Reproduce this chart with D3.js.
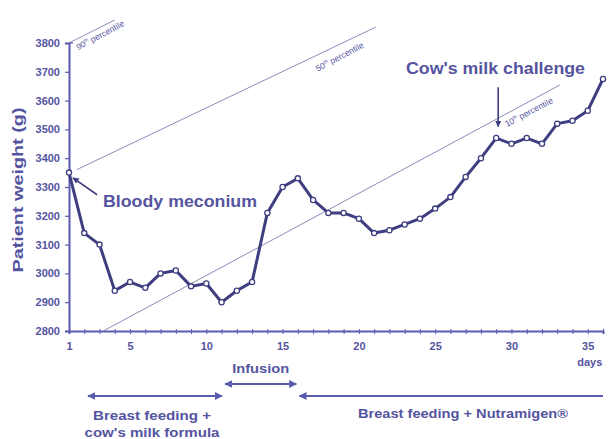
<!DOCTYPE html>
<html><head><meta charset="utf-8">
<script src="https://cdn.jsdelivr.net/npm/d3@7"></script>
<style>html,body{margin:0;padding:0;background:#fff;}svg{display:block;font-family:"Liberation Sans",Arial,sans-serif;}</style>
</head><body>
<svg id="c" width="613" height="439"></svg>
<script>
// ---- data ----
const days = [1,2,3,4,5,6,7,8,9,10,11,12,13,14,15,16,17,18,19,20,21,22,23,24,25,26,27,28,29,30,31,32,33,34,35,36];
const weights = [3350,3140,3100,2940,2970,2950,3000,3010,2955,2965,2900,2940,2970,3210,3300,3330,3255,3210,3210,3190,3140,3150,3170,3190,3225,3265,3335,3400,3470,3450,3470,3450,3520,3530,3565,3675];
const yTicks = [2800,2900,3000,3100,3200,3300,3400,3500,3600,3700,3800];
const xTickLabels = [1,5,10,15,20,25,30,35];
const percentile90 = [[1,3800],[4,3880]];
const percentile50 = [[1.5,3360],[21.1,3855]];
const percentile10 = [[3.25,2800],[33.2,3655]];
const percentileLabels = [
  {num:"90", day:1.6, w:3775},
  {num:"50", day:17.3, w:3700},
  {num:"10", day:29.7, w:3508}
];
const phases = [
  {name:["Breast feeding +","cow's milk formula"], start:2.25, end:11.03, both:true},
  {name:["Infusion"], start:11.23, end:15.9, both:true},
  {name:["Breast feeding + Nutramigen®"], start:16.1, end:36, both:false}
];

// ---- setup ----
const svg = d3.select("#c");
const textCol = "#5454a0", lineCol = "#3e3e80", axisCol = "#5a5aae", pctCol = "#8c8cba";
const x = d3.scaleLinear().domain([1,36]).range([69,603]);
const y = d3.scaleLinear().domain([2800,3800]).range([331,43]);

const defs = svg.append("defs");
function marker(id, col){
  defs.append("marker").attr("id",id).attr("viewBox","0 0 10 10").attr("refX",9).attr("refY",5)
    .attr("markerWidth",4).attr("markerHeight",4).attr("orient","auto-start-reverse")
    .attr("markerUnits","strokeWidth")
    .append("path").attr("d","M0,0 L10,5 L0,10 Z").attr("fill",col);
}
marker("ah", lineCol);
marker("ah2", axisCol);

// percentile lines
[percentile90, percentile50, percentile10].forEach(p=>{
  svg.append("line").attr("x1",x(p[0][0])).attr("y1",y(p[0][1])).attr("x2",x(p[1][0])).attr("y2",y(p[1][1]))
    .attr("stroke",pctCol).attr("stroke-width",1);
});
percentileLabels.forEach(l=>{
  const t = svg.append("text").attr("transform",`translate(${x(l.day)},${y(l.w)}) rotate(-28)`)
    .attr("fill",textCol).attr("font-size",8.5).attr("text-anchor","start");
  t.append("tspan").text(l.num);
  t.append("tspan").attr("font-size",5).attr("dy",-3.5).text("th");
  t.append("tspan").attr("dy",3.5).text(" percentile");
});

// axes
const yAxis = d3.axisLeft(y).tickValues(yTicks).tickSize(4).tickPadding(5).tickFormat(d3.format("d"));
const gy = svg.append("g").attr("transform",`translate(${x(1)},0)`).call(yAxis);
gy.select(".domain").attr("stroke",axisCol).attr("stroke-width",2);
gy.selectAll(".tick line").attr("stroke",axisCol).attr("stroke-width",1.2);
gy.selectAll(".tick text").attr("fill",textCol).attr("font-size",11).attr("font-weight","bold").attr("font-family","Liberation Sans, Arial, sans-serif");
gy.append("line").attr("x1",0).attr("x2",4).attr("y1",y(3800)).attr("y2",y(3800)).attr("stroke",axisCol).attr("stroke-width",1.2);

const xAxis = d3.axisBottom(x).tickValues(days).tickSize(3).tickPadding(8).tickFormat(d=>xTickLabels.includes(d)?d:"");
const gx = svg.append("g").attr("transform",`translate(0,${y(2800)})`).call(xAxis);
gx.select(".domain").attr("stroke",axisCol).attr("stroke-width",2);
gx.selectAll(".tick line").attr("stroke",axisCol).attr("stroke-width",1).attr("y1",-2);
gx.selectAll(".tick text").attr("fill",textCol).attr("font-size",11).attr("font-weight","bold").attr("font-family","Liberation Sans, Arial, sans-serif");
svg.append("text").attr("x",x(35)+2).attr("y",y(2800)+35).attr("text-anchor","middle").attr("fill",textCol)
  .attr("font-size",11).attr("font-weight","bold").text("days");

// y title
svg.append("text").attr("transform",`translate(23,190) rotate(-90)`).attr("text-anchor","middle")
  .attr("fill",textCol).attr("font-size",15).attr("font-weight","bold")
  .attr("textLength",165).attr("lengthAdjust","spacingAndGlyphs").text("Patient weight (g)");

// data line
const pts = days.map((d,i)=>[d,weights[i]]);
svg.append("path").datum(pts).attr("fill","none").attr("stroke",lineCol).attr("stroke-width",3)
  .attr("stroke-linejoin","round").attr("d",d3.line().x(d=>x(d[0])).y(d=>y(d[1])));
svg.selectAll("circle.pt").data(pts).enter().append("circle").attr("class","pt")
  .attr("cx",d=>x(d[0])).attr("cy",d=>y(d[1])).attr("r",2.6).attr("fill","#fff")
  .attr("stroke",lineCol).attr("stroke-width",1.3);

// annotations
svg.append("line").attr("x1",x(2.84)).attr("y1",y(3273)).attr("x2",x(1.26)).attr("y2",y(3332))
  .attr("stroke",lineCol).attr("stroke-width",1.6).attr("marker-end","url(#ah)");
svg.append("text").attr("x",103).attr("y",207).attr("fill",textCol).attr("font-size",16).attr("font-weight","bold")
  .attr("textLength",154).attr("lengthAdjust","spacingAndGlyphs").text("Bloody meconium");
svg.append("line").attr("x1",x(29.13)).attr("y1",y(3646)).attr("x2",x(29.13)).attr("y2",y(3510))
  .attr("stroke",lineCol).attr("stroke-width",1.6).attr("marker-end","url(#ah)");
svg.append("text").attr("x",406).attr("y",74).attr("fill",textCol).attr("font-size",16).attr("font-weight","bold")
  .attr("textLength",179).attr("lengthAdjust","spacingAndGlyphs").text("Cow's milk challenge");

// phases
const phaseY = [396,384,396];
phases.forEach((p,i)=>{
  const ln = svg.append("line").attr("x1",x(p.start)).attr("x2",x(p.end)).attr("y1",phaseY[i]).attr("y2",phaseY[i])
    .attr("stroke",axisCol).attr("stroke-width",2).attr("marker-start","url(#ah2)");
  if(p.both) ln.attr("marker-end","url(#ah2)");
});
svg.append("text").attr("x",(x(phases[1].start)+x(phases[1].end))/2).attr("y",373).attr("text-anchor","middle")
  .attr("fill",textCol).attr("font-size",12).attr("font-weight","bold").attr("textLength",57).attr("lengthAdjust","spacingAndGlyphs").text(phases[1].name[0]);
svg.append("text").attr("x",152).attr("y",420).attr("text-anchor","middle")
  .attr("fill",textCol).attr("font-size",12.5).attr("font-weight","bold").attr("textLength",118).attr("lengthAdjust","spacingAndGlyphs").text(phases[0].name[0]);
svg.append("text").attr("x",152).attr("y",437).attr("text-anchor","middle")
  .attr("fill",textCol).attr("font-size",12.5).attr("font-weight","bold").attr("textLength",135).attr("lengthAdjust","spacingAndGlyphs").text(phases[0].name[1]);
svg.append("text").attr("x",463).attr("y",418).attr("text-anchor","middle")
  .attr("fill",textCol).attr("font-size",12.5).attr("font-weight","bold").attr("textLength",210).attr("lengthAdjust","spacingAndGlyphs").text(phases[2].name[0]);
</script>
</body></html>
